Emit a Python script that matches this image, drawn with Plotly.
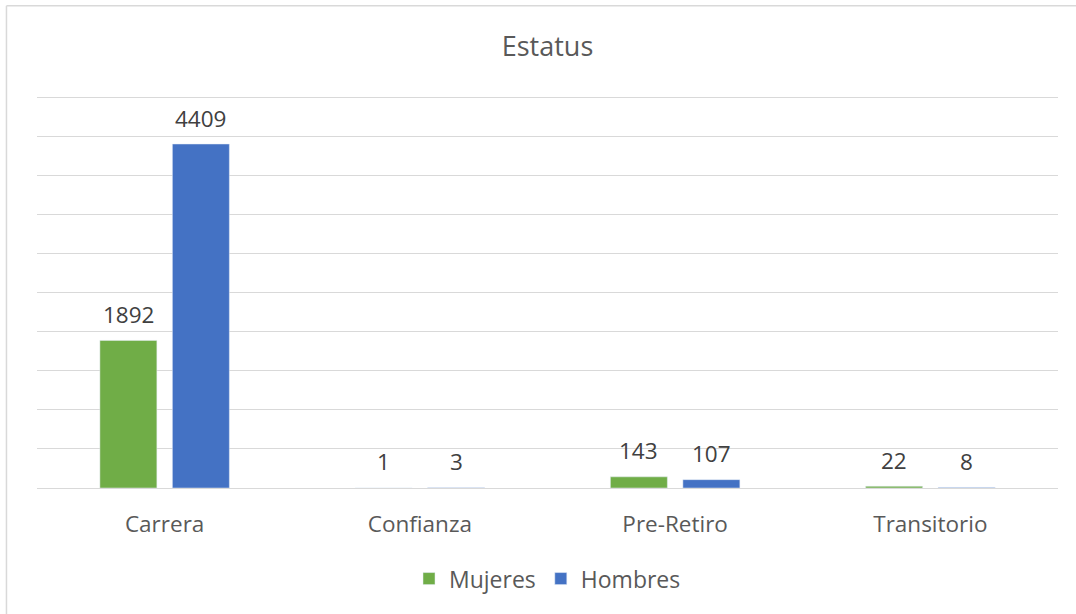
import plotly.graph_objects as go

categorias = ["Carrera", "Confianza", "Pre-Retiro", "Transitorio"]
mujeres = [1892, 1, 143, 22]
hombres = [4409, 3, 107, 8]

txt = "#404040"
gris = "#595959"
fnt = "Open Sans"
bargap = 0.432
slot_px = (1076 - 37 - 18) / len(categorias) * (1 - bargap) / 2

fig = go.Figure()
fig.add_trace(go.Bar(x=categorias, y=mujeres, name="Mujeres", marker_color="#70AD47"))
fig.add_trace(go.Bar(x=categorias, y=hombres, name="Hombres", marker_color="#4472C4"))

# data labels sit a little higher above the bars than plotly's outside text
for serie, lado in ((mujeres, -1), (hombres, 1)):
    for cat, val in zip(categorias, serie):
        fig.add_annotation(x=cat, y=val, text=str(val), showarrow=False,
                           xshift=lado * slot_px / 2, yanchor="middle", yshift=26,
                           font=dict(size=22.5, color=txt, family=fnt))

fig.update_layout(
    width=1076, height=614,
    margin=dict(l=37, r=18, t=94.1, b=126),
    paper_bgcolor="white", plot_bgcolor="white",
    font=dict(family=fnt, color=gris),
    title=dict(text="Estatus", x=0.5, xref="paper", xanchor="center", y=1 - 47 / 614,
               yanchor="middle", font=dict(size=27, color=gris, family=fnt)),
    barmode="group", bargap=bargap, bargroupgap=0.214,
    showlegend=True,
    legend=dict(orientation="h", x=0.5, xanchor="center", y=-0.23, yanchor="middle",
                font=dict(size=23, color=gris, family=fnt)),
)
fig.update_xaxes(showline=False, showgrid=False, ticks="outside", ticklen=16,
                 tickcolor="rgba(0,0,0,0)", tickfont=dict(size=22.5, color=gris, family=fnt))
fig.update_yaxes(range=[0, 5050], tick0=0, dtick=500, showticklabels=False, showgrid=True,
                 gridcolor="#D9D9D9", gridwidth=1, zeroline=True, zerolinecolor="#D9D9D9",
                 zerolinewidth=1)

# chart frame (top and left edges visible in the crop)
fig.add_shape(type="line", xref="paper", yref="paper", x0=-0.0299, x1=1.05, y0=1.224, y1=1.224,
              line=dict(color="#D9D9D9", width=1.5))
fig.add_shape(type="line", xref="paper", yref="paper", x0=-0.0299, x1=-0.0299, y0=1.224, y1=-0.33,
              line=dict(color="#D9D9D9", width=1.5))

fig.write_html("out.html", config={"displayModeBar": False},
               post_script="document.body.style.margin='0';")
